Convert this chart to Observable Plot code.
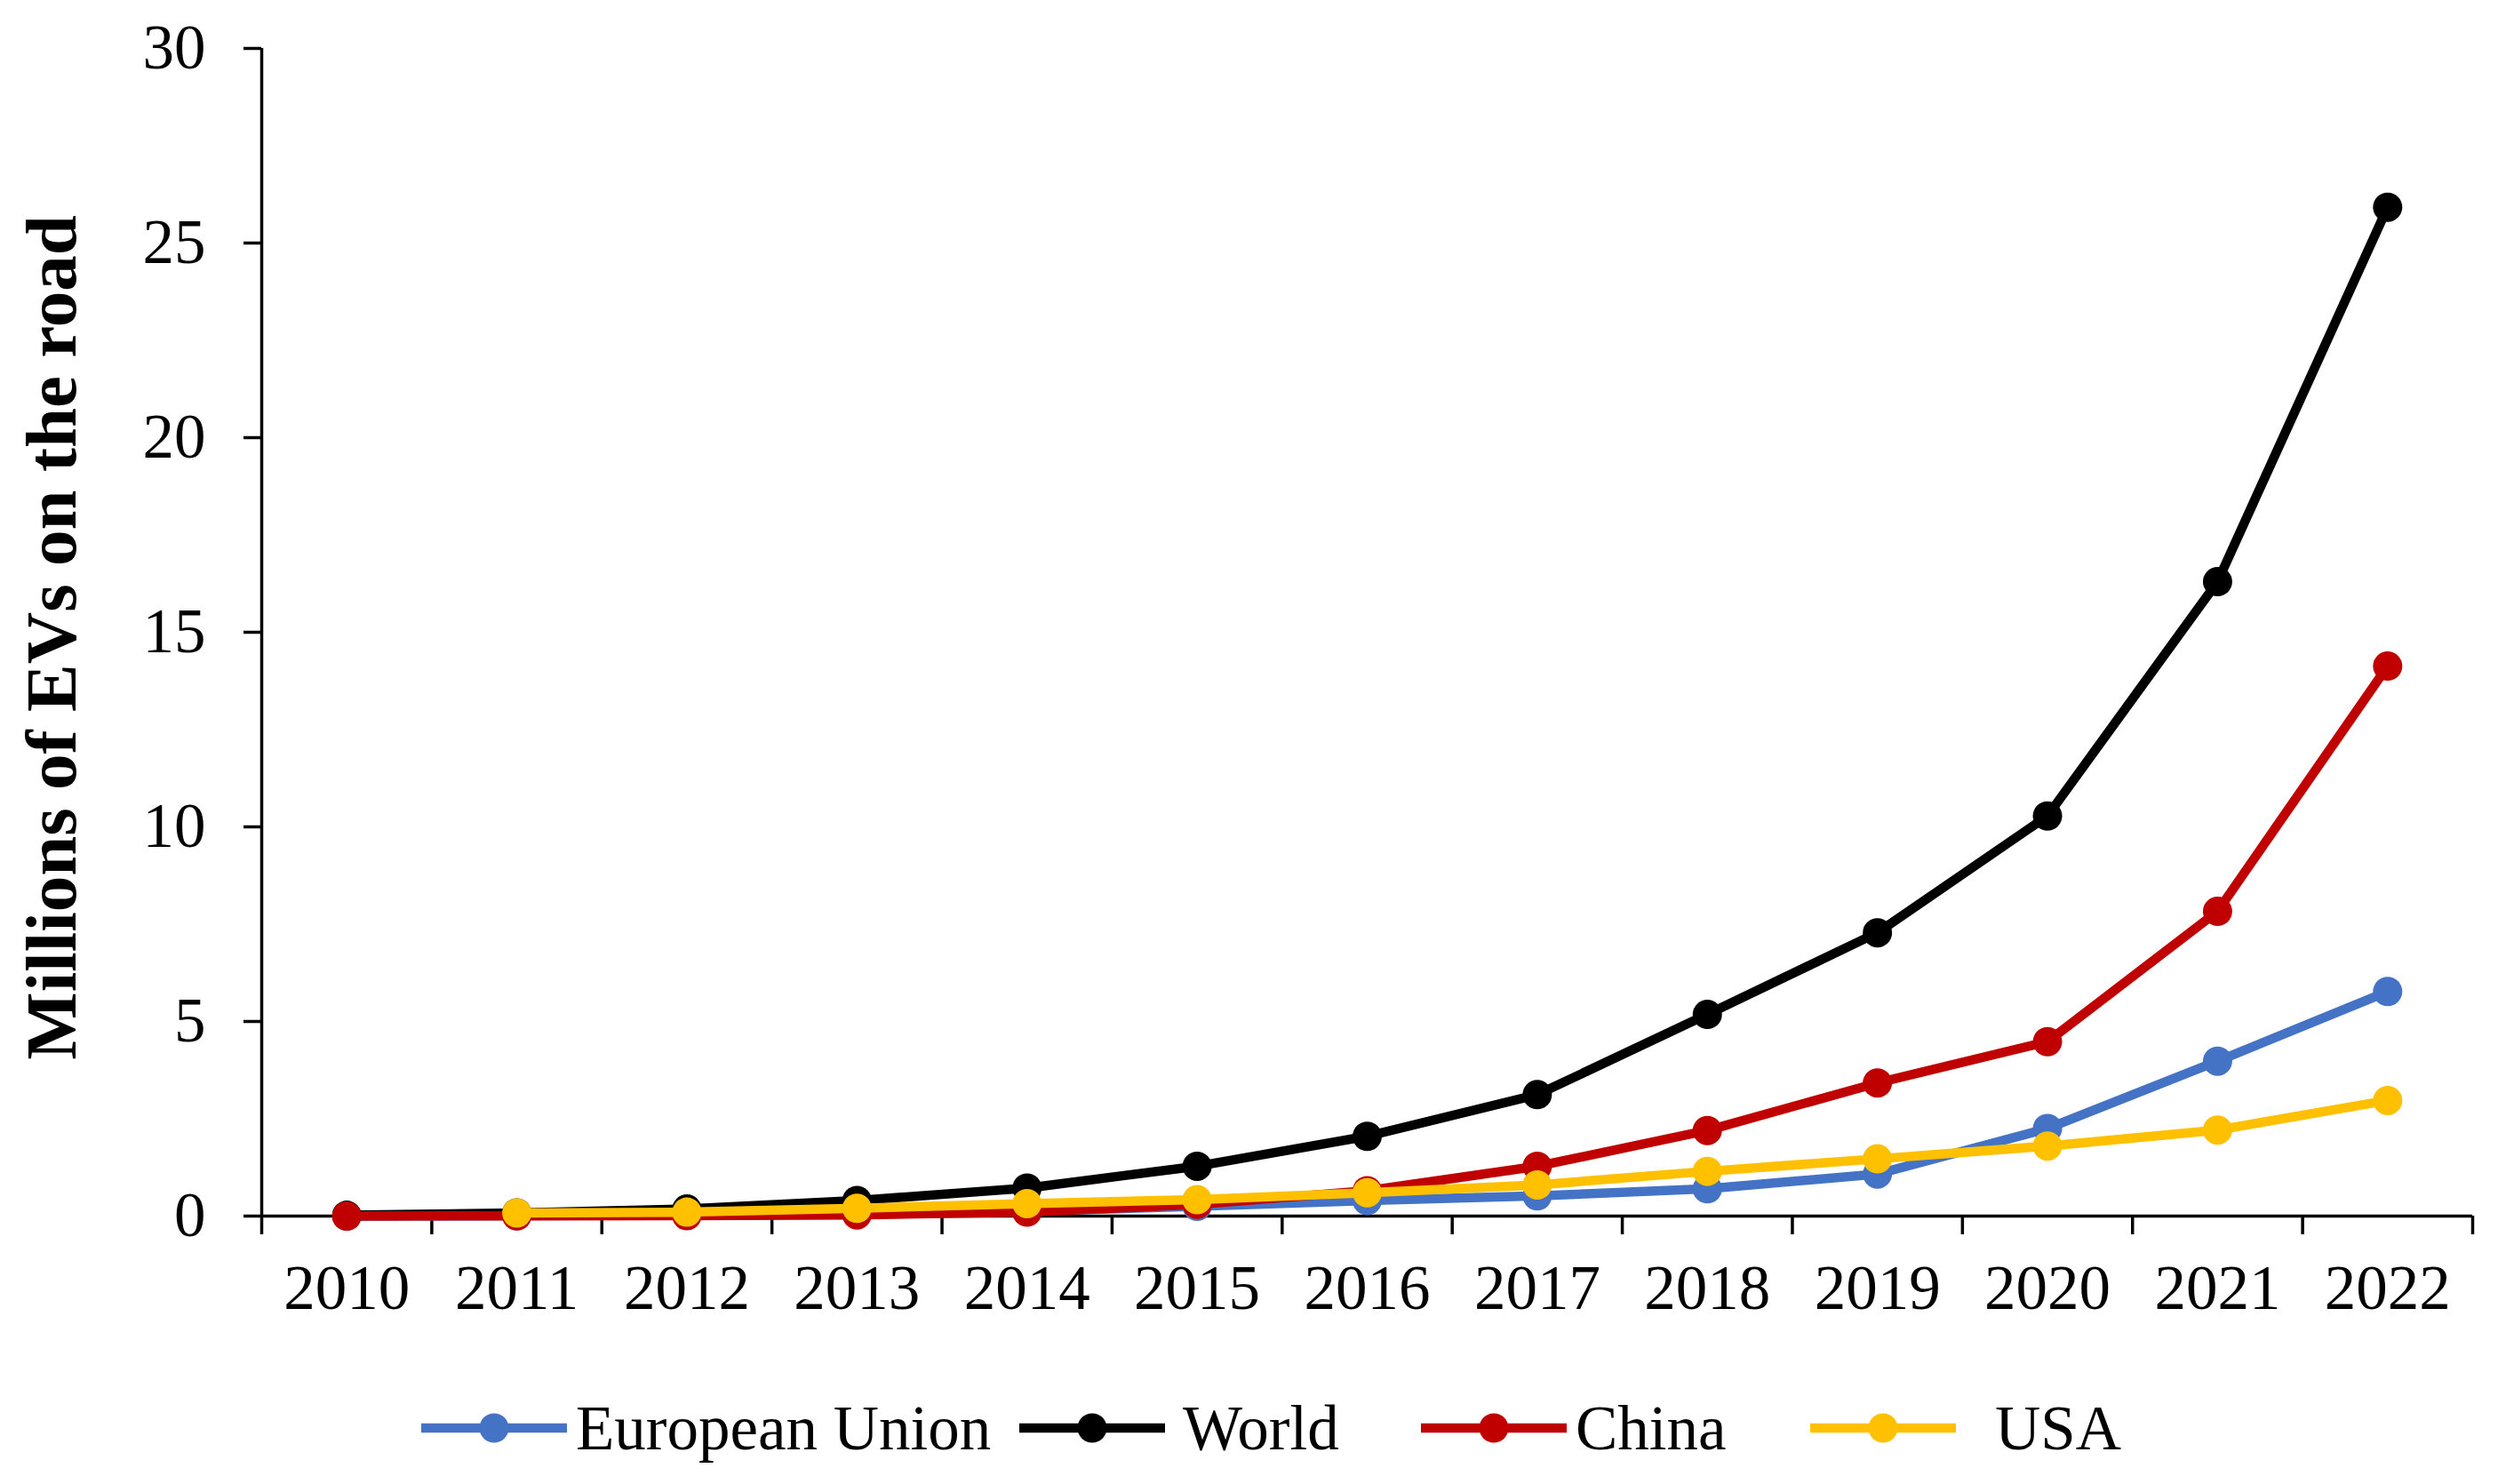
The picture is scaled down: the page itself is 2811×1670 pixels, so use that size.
<!DOCTYPE html>
<html>
<head>
<meta charset="utf-8">
<script src="https://cdn.jsdelivr.net/npm/d3@7"></script>
<script src="https://cdn.jsdelivr.net/npm/@observablehq/plot@0.6"></script>
<style>
  html, body { margin: 0; padding: 0; background: #fff; }
  #wrap { width: 2811px; height: 1670px; position: relative; overflow: hidden; }
  #legend { position: relative; width: 2811px; height: 140px; font-family: "Liberation Serif", "Times New Roman", serif; font-size: 71px; color: #000; }
  .item { position: absolute; top: 37px; height: 80px; display: flex; align-items: center; }
  .item svg { display: block; }
  .item span { position: absolute; white-space: nowrap; line-height: 80px; top: 0; }
</style>
</head>
<body>
<div id="wrap"></div>
<script>
// ---- data ----
const years = [2010, 2011, 2012, 2013, 2014, 2015, 2016, 2017, 2018, 2019, 2020, 2021, 2022];
const seriesNames = ["European Union", "World", "China", "USA"];
const euValues    = [0.00, 0.01, 0.03, 0.07, 0.12, 0.25, 0.40, 0.52, 0.70, 1.08, 2.25, 3.98, 5.77];
const worldValues = [0.02, 0.08, 0.18, 0.40, 0.72, 1.28, 2.05, 3.12, 5.18, 7.28, 10.28, 16.30, 25.92];
const chinaValues = [0.00, 0.005, 0.01, 0.03, 0.10, 0.30, 0.65, 1.28, 2.20, 3.42, 4.48, 7.83, 14.13];
const usaValues   = [null, 0.08, 0.10, 0.20, 0.32, 0.42, 0.60, 0.80, 1.15, 1.47, 1.80, 2.21, 2.97];
const yTicks = [0, 5, 10, 15, 20, 25, 30];
const yTitle = "Millions of EVs on the road";

// ---- styles ----
const colors = {"European Union": "#4472C4", "World": "#000000", "China": "#C00000", "USA": "#FFC000"};
const font = "'Liberation Serif', 'Times New Roman', serif";

const valueLists = [euValues, worldValues, chinaValues, usaValues];
const rows = [];
seriesNames.forEach((name, i) => {
  years.forEach((yr, j) => {
    const v = valueLists[i][j];
    if (v !== null && v !== undefined) rows.push({series: name, year: yr, value: v});
  });
});

const bandEdges = d3.range(years[0] - 0.5, years[years.length - 1] + 1, 1);

const marks = [
  Plot.ruleY([0], {stroke: "#000", strokeWidth: 3.5}),
  Plot.ruleX([years[0] - 0.5], {y1: 0, y2: 30, stroke: "#000", strokeWidth: 3.5}),
  Plot.axisY({ticks: yTicks, tickSize: 20, tickPadding: 43, tickFormat: d => String(d), label: null, strokeWidth: 3.5, fontSize: 71}),
  Plot.axisX({ticks: bandEdges, tickSize: 21, tickFormat: () => "", label: null, strokeWidth: 3.5}),
  Plot.axisX({ticks: years, tickSize: 0, tickPadding: 54, tickFormat: d => String(d), label: null, fontSize: 71}),
  Plot.text([yTitle], {frameAnchor: "left", dx: -235, dy: 6, rotate: -90, textAnchor: "middle", fontWeight: "bold", fontSize: 81, fill: "#000"})
];
seriesNames.forEach(name => {
  const d = rows.filter(r => r.series === name);
  marks.push(Plot.line(d, {x: "year", y: "value", stroke: colors[name], strokeWidth: 10.5}));
  marks.push(Plot.dot(d, {x: "year", y: "value", r: 16.5, fill: colors[name], stroke: "none"}));
});

const chart = Plot.plot({
  width: 2811,
  height: 1530,
  marginTop: 54,
  marginBottom: 162,
  marginLeft: 294,
  marginRight: 29,
  x: {type: "linear", domain: [years[0] - 0.5, years[years.length - 1] + 0.5]},
  y: {domain: [0, 30]},
  style: {fontFamily: font, fontSize: "71px", color: "#000", background: "#fff", overflow: "visible"},
  marks
});
const wrap = document.getElementById("wrap");
wrap.appendChild(chart);

// ---- legend (below the SVG) ----
const legendLayout = [
  {left: 474, textOffset: 174},
  {left: 1147, textOffset: 184},
  {left: 1599, textOffset: 174},
  {left: 2037, textOffset: 208}
];
const legend = document.createElement("div");
legend.id = "legend";
seriesNames.forEach((name, i) => {
  const item = document.createElement("div");
  item.className = "item";
  item.style.left = legendLayout[i].left + "px";
  const sw = d3.create("svg").attr("width", 164).attr("height", 80);
  sw.append("line").attr("x1", 0).attr("x2", 164).attr("y1", 40).attr("y2", 40)
    .attr("stroke", colors[name]).attr("stroke-width", 10.5);
  sw.append("circle").attr("cx", 82).attr("cy", 40).attr("r", 16.5).attr("fill", colors[name]);
  item.appendChild(sw.node());
  const label = document.createElement("span");
  label.textContent = name;
  label.style.left = legendLayout[i].textOffset + "px";
  item.appendChild(label);
  legend.appendChild(item);
});
wrap.appendChild(legend);
</script>
</body>
</html>
